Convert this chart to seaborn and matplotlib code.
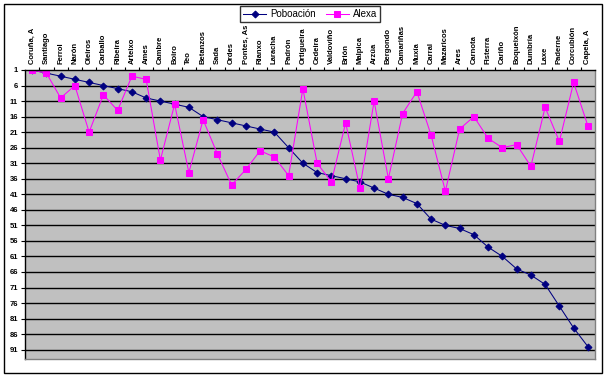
import matplotlib
matplotlib.use("Agg")
import matplotlib.pyplot as plt
from matplotlib.patches import Rectangle
import seaborn as sns
import pandas as pd

# concellos da provincia da Coruña
concellos = [
    "Coruña, A", "Santiago", "Ferrol", "Narón", "Oleiros", "Carballo", "Ribeira",
    "Arteixo", "Ames", "Cambre", "Boiro", "Teo", "Betanzos", "Sada", "Ordes",
    "Pontes, As", "Rianxo", "Laracha", "Padrón", "Ortigueira", "Cedeira",
    "Valdoviño", "Brión", "Malpica", "Arzúa", "Bergondo", "Camariñas", "Muxía",
    "Carral", "Mazaricos", "Ares", "Carnota", "Fisterra", "Cariño", "Boqueixón",
    "Dumbría", "Laxe", "Paderne", "Corcubión", "Capela, A",
]

# posto por poboación
poboacion = [1, 2, 3, 4, 5, 6, 7, 8, 10, 11, 12, 13, 16, 17, 18, 19, 20, 21, 26, 31,
             34, 35, 36, 37, 39, 41, 42, 44, 49, 51, 52, 54, 58, 61, 65, 67, 70, 77, 84, 90]

# posto por Alexa
alexa = [1, 2, 10, 6, 21, 9, 14, 3, 4, 30, 12, 34, 17, 28, 38, 33, 27, 29, 35, 7,
         31, 37, 18, 39, 11, 36, 15, 8, 22, 40, 20, 16, 23, 26, 25, 32, 13, 24, 5, 19]

yticks = list(range(1, 92, 5))

df = pd.DataFrame({"pos": range(len(concellos)), "concello": concellos,
                   "Poboación": poboacion, "Alexa": alexa})

plt.rcParams["font.family"] = ["Liberation Sans", "DejaVu Sans"]

fig = plt.figure(figsize=(6.06, 3.78), dpi=100)
ax = fig.add_axes([25 / 606, 1 - 359 / 378, 570 / 606, 289 / 378])
ax.set_facecolor("#C0C0C0")

sns.lineplot(data=df, x="pos", y="Poboación", ax=ax, color="#000080",
             marker="D", markersize=3.5, markeredgecolor="#000080",
             linewidth=0.75, label="Poboación", sort=False)
sns.lineplot(data=df, x="pos", y="Alexa", ax=ax, color="#FF00FF",
             marker="s", markersize=4, markeredgecolor="#FF00FF",
             linewidth=0.75, label="Alexa", sort=False)

ax.set_xlim(-0.5, len(concellos) - 0.5)
ax.set_ylim(94, 1)
ax.set_yticks(yticks)
ax.set_yticklabels([str(t) for t in yticks], fontsize=5.5, fontweight="bold")
for t in yticks[1:]:
    ax.axhline(t, color="black", linewidth=1.0, zorder=1)

ax.xaxis.tick_top()
ax.set_xticks(df["pos"])
ax.set_xticklabels(concellos, rotation=90, fontsize=5.5, fontweight="bold")
ax.set_xticks([p + 0.5 for p in df["pos"][:-1]], minor=True)
ax.tick_params(axis="x", which="major", length=0, pad=4)
ax.tick_params(axis="x", which="minor", length=2, top=True, bottom=False, width=0.8)
ax.tick_params(axis="y", length=3, width=0.8, pad=2)
ax.set_xlabel("")
ax.set_ylabel("")

for side in ["top", "left"]:
    ax.spines[side].set_color("black")
    ax.spines[side].set_linewidth(1.0)
for side in ["bottom", "right"]:
    ax.spines[side].set_color("#808080")
    ax.spines[side].set_linewidth(1.0)

leg = ax.legend(loc="center", bbox_to_anchor=(310 / 606, 1 - 14 / 378),
                bbox_transform=fig.transFigure, ncol=2, fontsize=7,
                frameon=True, fancybox=False, edgecolor="black",
                handlelength=2.4, columnspacing=1.0, handletextpad=0.4,
                borderpad=0.3, borderaxespad=0)
leg.get_frame().set_linewidth(1.0)

fig.patches.append(Rectangle((4 / 606, 1 - 373 / 378), 598 / 606, 369 / 378,
                             transform=fig.transFigure, fill=False,
                             edgecolor="black", linewidth=1.0))

fig.savefig("out.png", dpi=100)
